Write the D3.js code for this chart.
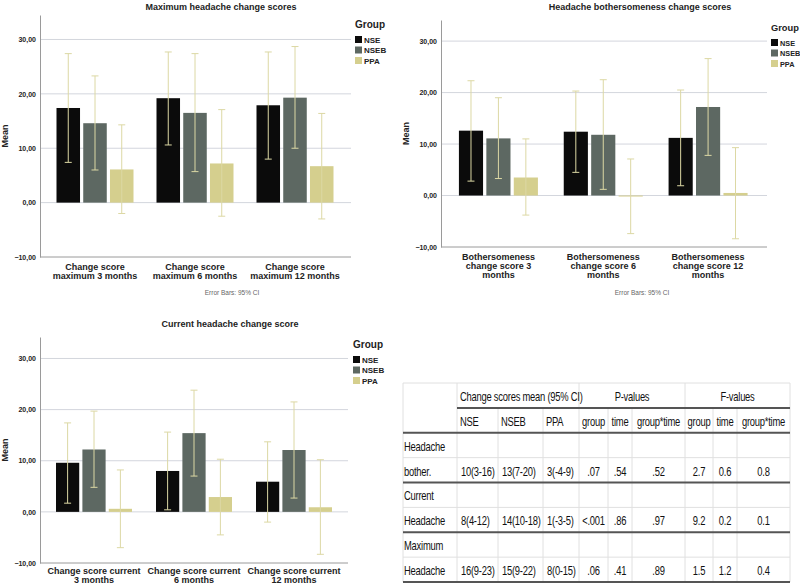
<!DOCTYPE html>
<html>
<head>
<meta charset="utf-8">
<script src="https://cdn.jsdelivr.net/npm/d3@7"></script>
<style>
  body { margin: 0; background: #fff; }
  svg { display: block; font-family: "Liberation Sans", Arial, sans-serif; }
</style>
</head>
<body>
<svg id="fig" width="800" height="585"></svg>
<script>
// groups (legend) and bar colours
const groups = ["NSE", "NSEB", "PPA"];
const groupColors = ["#0b0b0b", "#5d6862", "#d5cf8e"];

// Maximum headache: rows = time points, cols = NSE, NSEB, PPA
const maxLabels = [["Change score", "maximum 3 months"], ["Change score", "maximum 6 months"], ["Change score", "maximum 12 months"]];
const maxMeans = [[17.4, 14.6, 6.1], [19.2, 16.5, 7.2], [17.9, 19.3, 6.7]];
const maxLower = [[7.4, 6.0, -2.0], [10.6, 5.7, -2.5], [8.0, 10.0, -3.0]];
const maxUpper = [[27.4, 23.3, 14.3], [27.7, 27.4, 17.1], [27.7, 28.7, 16.4]];

// Headache bothersomeness
const botherLabels = [["Bothersomeness", "change score 3", "months"], ["Bothersomeness", "change score 6", "months"], ["Bothersomeness", "change score 12", "months"]];
const botherMeans = [[12.6, 11.1, 3.5], [12.4, 11.8, -0.1], [11.2, 17.2, 0.5]];
const botherLower = [[2.8, 3.3, -3.8], [4.5, 1.2, -7.4], [1.9, 7.8, -8.4]];
const botherUpper = [[22.3, 19.0, 11.0], [20.3, 22.5, 7.1], [20.5, 26.6, 9.3]];

// Current headache
const currentLabels = [["Change score current", "3 months"], ["Change score current", "6 months"], ["Change score current", "12 months"]];
const currentMeans = [[9.6, 12.2, 0.6], [8.0, 15.4, 2.9], [5.9, 12.1, 0.9]];
const currentLower = [[1.7, 4.8, -7.0], [0.4, 7.0, -4.5], [-2.0, 2.7, -8.3]];
const currentUpper = [[17.4, 19.7, 8.2], [15.6, 23.8, 10.3], [13.7, 21.5, 10.2]];

const yTicks = [-10, 0, 10, 20, 30];

// table
const tableHead1 = ["Change scores mean (95% CI)", "P-values", "F-values"];
const tableHead2 = ["NSE", "NSEB", "PPA", "group", "time", "group*time", "group", "time", "group*time"];
const rowLabels = [["Headache", "bother."], ["Current", "Headache"], ["Maximum", "Headache"]];
const tableValues = [
  ["10(3-16)", "13(7-20)", "3(-4-9)", ".07", ".54", ".52", "2.7", "0.6", "0.8"],
  ["8(4-12)", "14(10-18)", "1(-3-5)", "<.001", ".86", ".97", "9.2", "0.2", "0.1"],
  ["16(9-23)", "15(9-22)", "8(0-15)", ".06", ".41", ".89", "1.5", "1.2", "0.4"]
];

const svg = d3.select("#fig");
const fmt = d => d3.format(".2f")(d).replace(".", ",");

function drawChart(cfg) {
  const g = svg.append("g");
  const y = d3.scaleLinear().domain(cfg.yDomain).range(cfg.yRange);
  const x0 = d3.scaleBand().domain(d3.range(3)).range(cfg.xRange);
  const x1 = d3.scaleBand().domain(d3.range(3))
    .range([-cfg.inner / 2, cfg.inner / 2]).paddingInner(0.12);

  // gridlines
  g.selectAll(".grid").data(yTicks.filter(t => t > -10)).join("line")
    .attr("x1", cfg.left).attr("x2", cfg.right)
    .attr("y1", d => y(d)).attr("y2", d => y(d))
    .attr("stroke", "#d3d6dd").attr("stroke-width", 1);

  // y axis
  g.append("g")
    .attr("transform", `translate(${cfg.left},0)`)
    .call(d3.axisLeft(y).tickValues(yTicks).tickFormat(fmt).tickSize(0).tickSizeOuter(0).tickPadding(4))
    .call(a => a.select(".domain").attr("stroke", "#9a9a9a"))
    .call(a => a.selectAll("text").attr("font-size", 7).attr("font-weight", "bold")
      .attr("fill", "#222").attr("font-family", "Liberation Sans, Arial, sans-serif"));

  // bottom line
  g.append("line")
    .attr("x1", cfg.left).attr("x2", cfg.right)
    .attr("y1", y(-10)).attr("y2", y(-10))
    .attr("stroke", "#9a9a9a");

  // bars
  const data = [];
  cfg.means.forEach((row, i) => row.forEach((m, j) => {
    data.push({ i, j, m, lo: cfg.lower[i][j], hi: cfg.upper[i][j] });
  }));
  const bx = d => x0(d.i) + x0.bandwidth() / 2 + x1(d.j);

  g.selectAll(".bar").data(data).join("rect")
    .attr("x", bx)
    .attr("width", x1.bandwidth())
    .attr("y", d => Math.min(y(d.m), y(0)))
    .attr("height", d => Math.max(1, Math.abs(y(d.m) - y(0))))
    .attr("fill", d => groupColors[d.j]);

  // error bars
  const ebColor = "#dcd8a4";
  const cap = 3.5;
  const eb = g.selectAll(".eb").data(data).join("g")
    .attr("transform", d => `translate(${bx(d) + x1.bandwidth() / 2},0)`);
  eb.append("line").attr("y1", d => y(d.lo)).attr("y2", d => y(d.hi))
    .attr("stroke", ebColor).attr("stroke-width", 1);
  eb.append("line").attr("x1", -cap).attr("x2", cap)
    .attr("y1", d => y(d.hi)).attr("y2", d => y(d.hi))
    .attr("stroke", ebColor).attr("stroke-width", 1);
  eb.append("line").attr("x1", -cap).attr("x2", cap)
    .attr("y1", d => y(d.lo)).attr("y2", d => y(d.lo))
    .attr("stroke", ebColor).attr("stroke-width", 1);

  // x labels
  const xl = g.selectAll(".xl").data(cfg.labels).join("text")
    .attr("text-anchor", "middle")
    .attr("font-size", 9).attr("font-weight", "bold").attr("fill", "#222")
    .attr("transform", (d, i) => `translate(${x0(i) + x0.bandwidth() / 2},${cfg.labelY})`);
  xl.selectAll("tspan").data(d => d).join("tspan")
    .attr("x", 0).attr("dy", (d, k) => k === 0 ? 0 : 9.2)
    .text(d => d);

  // title
  g.append("text")
    .attr("x", cfg.titleX).attr("y", cfg.titleY)
    .attr("text-anchor", "middle")
    .attr("font-size", 9).attr("font-weight", "bold").attr("fill", "#222")
    .text(cfg.title);

  // "Mean"
  g.append("text")
    .attr("transform", `translate(${cfg.meanX},${(cfg.yRange[0] + cfg.yRange[1]) / 2}) rotate(-90)`)
    .attr("text-anchor", "middle")
    .attr("font-size", 9).attr("font-weight", "bold").attr("fill", "#222")
    .text("Mean");

  // legend
  const lg = g.append("g").attr("transform", `translate(${cfg.legendX},${cfg.legendY})`);
  lg.append("text").attr("x", 0).attr("y", 0)
    .attr("font-size", cfg.legendFont || 10).attr("font-weight", "bold").attr("fill", "#222")
    .text("Group");
  const li = lg.selectAll(".li").data(groups).join("g")
    .attr("transform", (d, k) => `translate(0,${8 + k * 10.5})`);
  li.append("rect").attr("width", 7).attr("height", 7).attr("fill", (d, k) => groupColors[k]);
  li.append("text").attr("x", 9).attr("y", 6.5)
    .attr("font-size", (cfg.legendFont || 10) - 2).attr("font-weight", "bold").attr("fill", "#222")
    .text(d => d);

  if (cfg.noteY) {
    g.append("text")
      .attr("x", cfg.noteX).attr("y", cfg.noteY)
      .attr("text-anchor", "middle")
      .attr("font-size", 6.5).attr("fill", "#666")
      .text("Error Bars: 95% CI");
  }
}

drawChart({
  title: "Maximum headache change scores", titleX: 221, titleY: 10,
  means: maxMeans, lower: maxLower, upper: maxUpper, labels: maxLabels,
  yDomain: [-10, 34.5], yRange: [257, 15], left: 40, right: 351,
  xRange: [45, 345], inner: 77, labelY: 270, meanX: 8,
  legendX: 355, legendY: 28, noteX: 232, noteY: 295
});

drawChart({
  title: "Headache bothersomeness change scores", titleX: 640, titleY: 10,
  means: botherMeans, lower: botherLower, upper: botherUpper, labels: botherLabels,
  yDomain: [-10, 34.1], yRange: [247, 20], left: 441, right: 767,
  xRange: [446, 760.5], inner: 79, labelY: 260, meanX: 409,
  legendX: 771, legendY: 31, legendFont: 9.3, noteX: 642, noteY: 295
});

drawChart({
  title: "Current headache change score", titleX: 230, titleY: 327,
  means: currentMeans, lower: currentLower, upper: currentUpper, labels: currentLabels,
  yDomain: [-10, 34.2], yRange: [563, 337], left: 40, right: 348,
  xRange: [44, 344], inner: 76, labelY: 574, meanX: 8,
  legendX: 353, legendY: 348
});

// ---- table ----
const colEdges = [403, 457, 498, 543, 579, 608, 632, 685, 713, 737, 790];
const ty = d3.scaleLinear().domain([0, 8]).range([383, 582]);
const tg = svg.append("g")
  .attr("font-family", "Liberation Sans, Arial, sans-serif")
  .attr("font-size", 12.2).attr("fill", "#111");

// condensed text: squeeze horizontally like the narrow font of the original
function ttext(x, yy, anchor, str) {
  tg.append("g").attr("transform", `translate(${x},${yy}) scale(0.77,1)`)
    .append("text").attr("text-anchor", anchor).attr("letter-spacing", -0.3).text(str);
}

// light grid
const light = "#e0e0e0";
tg.selectAll(".vl").data(colEdges).join("line")
  .attr("x1", d => d).attr("x2", d => d)
  .attr("y1", (d, k) => [0, 1, 4, 7, 10].includes(k) ? ty(0) : ty(1))
  .attr("y2", ty(8))
  .attr("stroke", light);
tg.selectAll(".hl").data([0, 3, 5, 7]).join("line")
  .attr("x1", colEdges[0]).attr("x2", colEdges[10])
  .attr("y1", d => ty(d)).attr("y2", d => ty(d))
  .attr("stroke", light);

// thick rules
tg.append("line").attr("x1", colEdges[1]).attr("x2", colEdges[10])
  .attr("y1", ty(1)).attr("y2", ty(1)).attr("stroke", "#555").attr("stroke-width", 2);
tg.selectAll(".th").data([2, 4, 6, 8]).join("line")
  .attr("x1", colEdges[0]).attr("x2", colEdges[10])
  .attr("y1", d => ty(d)).attr("y2", d => ty(d))
  .attr("stroke", "#555").attr("stroke-width", 2);

// header row 1
const spans = [[1, 4, "start"], [4, 7, "middle"], [7, 10, "middle"]];
tableHead1.forEach((t, k) => {
  const s = spans[k];
  ttext(s[2] === "start" ? colEdges[s[0]] + 3 : (colEdges[s[0]] + colEdges[s[1]]) / 2, ty(1) - 7, s[2], t);
});

// header row 2
tableHead2.forEach((t, k) => {
  ttext(k < 3 ? colEdges[k + 1] + 3 : (colEdges[k + 1] + colEdges[k + 2]) / 2, ty(2) - 7, k < 3 ? "start" : "middle", t);
});

// body rows
rowLabels.forEach((lab, r) => {
  lab.forEach((t, k) => ttext(colEdges[0] + 1, ty(2 + r * 2 + k + 1) - 7, "start", t));
  tableValues[r].forEach((t, k) => {
    ttext(k < 3 ? colEdges[k + 1] + 4 : (colEdges[k + 1] + colEdges[k + 2]) / 2,
      ty(2 + r * 2 + 2) - 7, k < 3 ? "start" : "middle", t);
  });
});
</script>
</body>
</html>
